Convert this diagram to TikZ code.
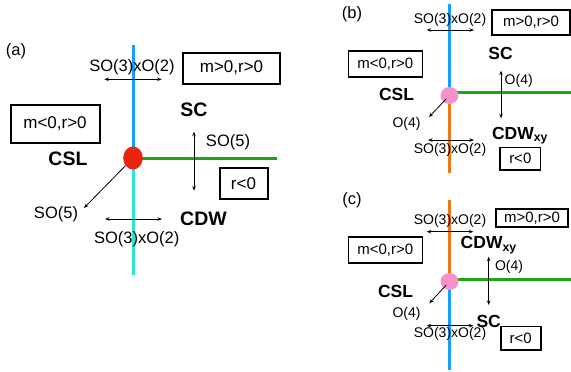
\documentclass[tikz,border=0pt]{standalone}
\usepackage{fontspec}
\setmainfont{Liberation Sans}
\usetikzlibrary{arrows.meta,shapes.geometric}

\definecolor{scblue}{RGB}{20,160,250}
\definecolor{cdwcyan}{RGB}{45,228,210}
\definecolor{cslgreen}{RGB}{30,165,20}
\definecolor{critred}{RGB}{235,35,15}
\definecolor{critpink}{RGB}{245,145,200}
\definecolor{xyorange}{RGB}{240,120,20}

\tikzset{
  lbl/.style={inner sep=0pt, font=\fontsize{16.5}{18}\selectfont},
  lbls/.style={inner sep=0pt, font=\fontsize{14}{16}\selectfont},
  phase/.style={inner sep=0pt, font=\fontsize{19.5}{21}\selectfont\bfseries},
  phases/.style={inner sep=0pt, font=\fontsize{17.5}{19}\selectfont\bfseries},
  region/.style={draw, line width=2pt, inner sep=0pt, font=\fontsize{17}{18}\selectfont},
  regions/.style={draw, line width=1.6pt, inner sep=0pt, font=\fontsize{15}{16}\selectfont},
  bdry/.style={line width=3pt},
  crit/.style={ellipse, inner sep=0pt},
  sym/.style={line width=0.8pt},
  >={Stealth[length=4.5pt,width=3.5pt]}
}

\begin{document}
\begin{tikzpicture}[x=1pt,y=-1pt]
\useasboundingbox (0,0) rectangle (571,372);

% ---------------- panel (a) ----------------
\node[lbl] (atag) at (16,51.5) {(a)};
\coordinate (ac) at (133,158);
\coordinate (atop) at (133,45);
\coordinate (abot) at (133,275);
\coordinate (aright) at (277,158);
\draw[bdry, scblue] (atop) -- (ac);
\draw[bdry, cdwcyan] (ac) -- (abot);
\draw[bdry, cslgreen] (ac) -- (aright);
\node[crit, fill=critred, minimum width=19.6pt, minimum height=23pt] (acrit) at (ac) {};

% regions
\node[region, minimum width=97pt, minimum height=31pt] (aupper) at (231.5,68) {m>0,r>0};
\node[region, minimum width=89pt, minimum height=38pt] (aleft) at (55,124) {m<0,r>0};
\node[region, minimum width=48pt, minimum height=31.5pt] (alower) at (243.5,183.5) {r<0};

% phases
\node[phase] (asc) at (194,109.7) {SC};
\node[phase] (acsl) at (68,158.7) {CSL};
\node[phase] (acdw) at (203.5,218.7) {CDW};

% symmetries
\node[lbl] (asymtop) at (132,67.5) {SO(3)xO(2)};
\node[lbl] (asymbot) at (136.7,239) {SO(3)xO(2)};
\node[lbl] (asymr) at (228,142.5) {SO(5)};
\node[lbl] (asymd) at (56,214) {SO(5)};
\coordinate (a1l) at (104.3,79.3);
\coordinate (a1r) at (161.7,79.3);
\coordinate (a2l) at (105,219);
\coordinate (a2r) at (162,219);
\coordinate (a3t) at (194,131.7);
\coordinate (a3b) at (194,190.7);
\coordinate (a4) at (84,208);
\draw[sym, <->] (a1l) -- (a1r);
\draw[sym, <->] (a2l) -- (a2r);
\draw[sym, <->] (a3t) -- (a3b);
\draw[sym, ->] (acrit) -- (a4);

% ---------------- panel (b) ----------------
\node[lbl] (btag) at (352,14.5) {(b)};
\coordinate (bc) at (449.5,95.5);
\coordinate (btop) at (449.5,4);
\coordinate (bbot) at (449.5,173);
\coordinate (bright) at (571,92.7);
\draw[bdry, scblue] (btop) -- (bc);
\draw[bdry, xyorange] (bc) -- (bbot);
\draw[bdry, cslgreen] (bc |- bright) -- (bright);
\node[crit, fill=critpink, minimum width=18pt, minimum height=17pt] (bcrit) at (bc) {};

\node[regions, minimum width=78pt, minimum height=25pt] (bupper) at (531,22.5) {m>0,r>0};
\node[regions, minimum width=74pt, minimum height=26.5pt] (bleft) at (385.3,64) {m<0,r>0};
\node[regions, minimum width=40.5pt, minimum height=22.5pt] (blower) at (520.3,158.7) {r<0};

\node[phases] (bsc) at (500.5,53.3) {SC};
\node[phases] (bcsl) at (396.5,94.7) {CSL};
\node[phases] (bcdw) at (520,135.5) {CDW\textsubscript{xy}};

\node[lbls] (bsymtop) at (450,20) {SO(3)xO(2)};
\node[lbls] (bsymbot) at (450,150) {SO(3)xO(2)};
\node[lbls] (bsymr) at (518.7,81) {O(4)};
\node[lbls] (bsymd) at (406.5,123.5) {O(4)};
\coordinate (b1l) at (426.7,30);
\coordinate (b1r) at (474,30);
\coordinate (b2l) at (428,140);
\coordinate (b2r) at (474,140);
\coordinate (b3t) at (501,70.7);
\coordinate (b3b) at (501,118.3);
\coordinate (b4) at (429,117);
\draw[sym, <->] (b1l) -- (b1r);
\draw[sym, <->] (b2l) -- (b2r);
\draw[sym, <->] (b3t) -- (b3b);
\draw[sym, ->, shorten <=5pt] (bcrit.center) -- (b4);

% ---------------- panel (c) ----------------
\node[lbl] (ctag) at (352,200) {(c)};
\coordinate (cc) at (449.5,281.5);
\coordinate (ctop) at (449.5,200);
\coordinate (cbot) at (449.5,370);
\coordinate (cright) at (571,279);
\draw[bdry, xyorange] (ctop) -- (cc);
\draw[bdry, scblue] (cc) -- (cbot);
\draw[bdry, cslgreen] (cc |- cright) -- (cright);
\node[crit, fill=critpink, minimum width=18pt, minimum height=17pt] (ccrit) at (cc) {};

\node[regions, minimum width=72pt, minimum height=18pt] (cupper) at (532,218) {m>0,r>0};
\node[regions, minimum width=74pt, minimum height=26.5pt] (cleft) at (385.3,250) {m<0,r>0};
\node[regions, minimum width=40pt, minimum height=23.3pt] (clower) at (520.7,338.3) {r<0};

\node[phases] (ccdw) at (488.7,245) {CDW\textsubscript{xy}};
\node[phases] (ccsl) at (395.5,291.5) {CSL};
\node[phases] (csc) at (488.7,321) {SC};

\node[lbls] (csymtop) at (450,221) {SO(3)xO(2)};
\node[lbls] (csymbot) at (450,334) {SO(3)xO(2)};
\node[lbls] (csymr) at (509,266.7) {O(4)};
\node[lbls] (csymd) at (406.5,314) {O(4)};
\coordinate (c1l) at (426.7,231.7);
\coordinate (c1r) at (473.3,231.7);
\coordinate (c2l) at (426.7,325.7);
\coordinate (c2r) at (473.3,325.7);
\coordinate (c3t) at (488.7,256.7);
\coordinate (c3b) at (488.7,305);
\coordinate (c4) at (429.3,303.3);
\draw[sym, <->] (c1l) -- (c1r);
\draw[sym, <->] (c2l) -- (c2r);
\draw[sym, <->] (c3t) -- (c3b);
\draw[sym, ->, shorten <=5pt] (ccrit.center) -- (c4);

\end{tikzpicture}
\end{document}
